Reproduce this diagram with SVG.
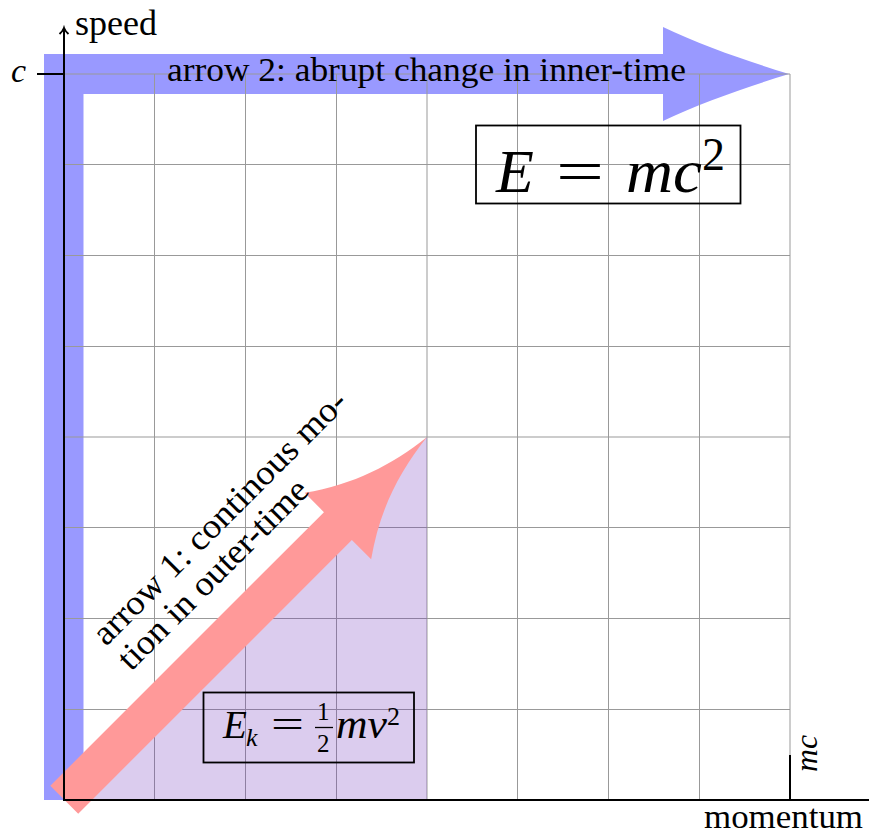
<svg xmlns="http://www.w3.org/2000/svg" width="869" height="831" viewBox="0 0 869 831">
<style>
.t{font-family:"Liberation Serif","DejaVu Serif",serif;fill:#000}
.i{font-style:italic}
.grid line{stroke:#999;stroke-width:1}
.ax{stroke:#000;stroke-width:2;fill:none}
.box{fill:none;stroke:#000;stroke-width:1.8}
</style>
<rect width="869" height="831" fill="#fff"/>
<g id="arrow2">
<path d="M44,800 L44,54 L663,54 L663,27 C700,45 750,62 789,74 C750,86 700,103 663,121 L663,94 L83.5,94 L83.5,800 Z" fill="#9999ff"/>
</g>
<g id="grid" class="grid">
<line x1="154.5" y1="74" x2="154.5" y2="800"/>
<line x1="245.5" y1="74" x2="245.5" y2="800"/>
<line x1="336.5" y1="74" x2="336.5" y2="800"/>
<line x1="427" y1="74" x2="427" y2="800"/>
<line x1="517.5" y1="74" x2="517.5" y2="800"/>
<line x1="608.5" y1="74" x2="608.5" y2="800"/>
<line x1="699.5" y1="74" x2="699.5" y2="800"/>
<line x1="790" y1="74" x2="790" y2="800"/>
<line x1="64" y1="709.5" x2="790" y2="709.5"/>
<line x1="64" y1="618.5" x2="790" y2="618.5"/>
<line x1="64" y1="527.5" x2="790" y2="527.5"/>
<line x1="64" y1="437" x2="790" y2="437"/>
<line x1="64" y1="346.5" x2="790" y2="346.5"/>
<line x1="64" y1="255.5" x2="790" y2="255.5"/>
<line x1="64" y1="164.5" x2="790" y2="164.5"/>
<line x1="64" y1="74" x2="790" y2="74"/>
</g>
<g id="kinetic-area">
<polygon points="64,800 427,437 427,800" fill="#6f33bb" fill-opacity="0.25"/>
</g>
<g id="arrow1" transform="translate(427,437) rotate(-45)">
<path d="M-513,-19.75 L-126,-19.75 L-126,-47 C-85,-18 -45,-5 0,0 C-45,5 -85,18 -126,47 L-126,19.75 L-513,19.75 Z" fill="#ff9999"/>
</g>
<g id="axes">
<line class="ax" x1="64" y1="801" x2="64" y2="29"/>
<path class="ax" d="M59.5,34 Q63,31 64,28 Q65,31 68.5,34" stroke-width="1.6"/>
<line class="ax" x1="63" y1="800" x2="869" y2="800"/>
<line class="ax" x1="37" y1="74" x2="64" y2="74"/>
<line class="ax" x1="790" y1="755" x2="790" y2="800"/>
</g>
<g id="labels">
<text class="t" x="75" y="35" font-size="35" textLength="82" lengthAdjust="spacingAndGlyphs">speed</text>
<text class="t i" x="11" y="82" font-size="34">c</text>
<text class="t" x="704" y="828" font-size="34" textLength="159" lengthAdjust="spacingAndGlyphs">momentum</text>
<text class="t i" transform="translate(817,772) rotate(-90)" font-size="32" textLength="37" lengthAdjust="spacingAndGlyphs">mc</text>
<text class="t" x="167" y="81" font-size="34" textLength="519" lengthAdjust="spacingAndGlyphs">arrow 2: abrupt change in inner-time</text>
</g>
<g id="arrow1-label" transform="translate(106,647) rotate(-45)">
<text class="t" x="0" y="0" font-size="35" textLength="344" lengthAdjust="spacingAndGlyphs">arrow 1:  continous mo-</text>
<text class="t" x="0" y="35.4" font-size="35" textLength="254" lengthAdjust="spacingAndGlyphs">tion in outer-time</text>
</g>
<g id="emc2">
<rect class="box" x="476" y="125.5" width="264.5" height="78"/>
<text class="t i" x="496" y="192" font-size="62">E</text>
<text class="t" x="556" y="192" font-size="62" textLength="48" lengthAdjust="spacingAndGlyphs">=</text>
<text class="t i" x="626" y="192" font-size="62" textLength="76" lengthAdjust="spacingAndGlyphs">mc</text>
<text class="t" x="702" y="170" font-size="46">2</text>
</g>
<g id="ek">
<rect class="box" x="203.5" y="692.5" width="210.5" height="70"/>
<text class="t i" x="223" y="738" font-size="39">E</text>
<text class="t i" x="246" y="746" font-size="26">k</text>
<text class="t" x="271" y="738" font-size="39" textLength="33" lengthAdjust="spacingAndGlyphs">=</text>
<text class="t" x="317" y="720" font-size="25">1</text>
<line x1="315" y1="727.5" x2="333" y2="727.5" stroke="#000" stroke-width="1.3"/>
<text class="t" x="317" y="752" font-size="25">2</text>
<text class="t i" x="336" y="738" font-size="39" textLength="51" lengthAdjust="spacingAndGlyphs">mv</text>
<text class="t" x="387" y="725" font-size="26">2</text>
</g>
</svg>
